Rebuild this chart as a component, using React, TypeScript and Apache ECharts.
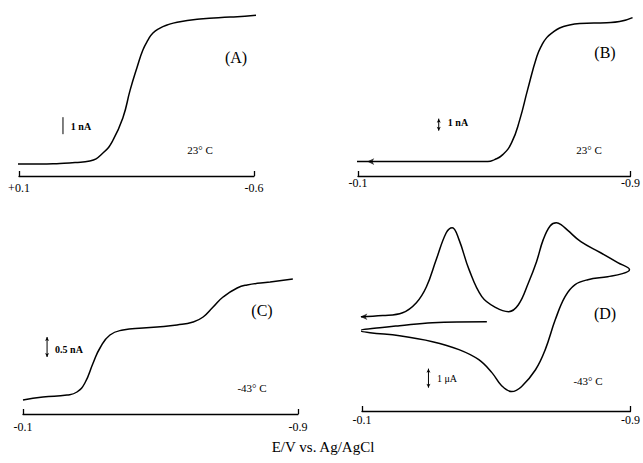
import React, { useEffect, useRef } from "react";
import * as echarts from "echarts";

// Panel A (23 °C), current in nA
const E_A = [0.109, 0.037, -0.022, -0.067, -0.111, -0.15, -0.18, -0.21, -0.231, -0.252, -0.269, -0.284, -0.299, -0.32, -0.341, -0.371, -0.439, -0.529, -0.573, -0.612];
const I_A = [0, 0, 0.04, 0.09, 0.18, 0.65, 1.41, 2.76, 4.35, 5.71, 6.71, 7.29, 7.71, 8.0, 8.18, 8.35, 8.53, 8.65, 8.7, 8.76];

// Panel B (23 °C), current in nA
const E_B = [-0.097, -0.223, -0.37, -0.481, -0.501, -0.525, -0.551, -0.575, -0.598, -0.625, -0.639, -0.654, -0.671, -0.692, -0.721, -0.751, -0.83, -0.868, -0.906];
const I_B = [0, 0, 0, 0, 0.17, 0.58, 1.58, 3.5, 6.0, 8.75, 9.67, 10.33, 10.75, 11.13, 11.38, 11.5, 11.58, 11.67, 12.0];

// Panel C (-43 °C), current in nA
const E_C = [-0.1, -0.158, -0.228, -0.257, -0.28, -0.304, -0.324, -0.353, -0.391, -0.449, -0.49, -0.548, -0.595, -0.624, -0.653, -0.682, -0.723, -0.752, -0.819, -0.885];
const I_C = [0, 0.075, 0.125, 0.2, 0.425, 0.925, 1.3, 1.625, 1.75, 1.8, 1.825, 1.875, 1.95, 2.075, 2.325, 2.575, 2.8, 2.875, 2.95, 3.025];

// Panel D (-43 °C), cyclic voltammogram, current in µA (in sweep order)
const E_D = [-0.472, -0.31, -0.212, -0.153, -0.094, -0.124, -0.212, -0.31, -0.389, -0.448, -0.487, -0.516, -0.546, -0.575, -0.617, -0.646, -0.676, -0.705, -0.735, -0.773, -0.832, -0.876, -0.897, -0.862, -0.811, -0.752, -0.714, -0.693, -0.679, -0.661, -0.64, -0.62, -0.596, -0.566, -0.537, -0.499, -0.457, -0.419, -0.389, -0.369, -0.351, -0.321, -0.292, -0.262, -0.221, -0.162, -0.085];
const I_D = [0, -0.05, -0.21, -0.32, -0.47, -0.58, -0.74, -1.05, -1.47, -2.0, -2.68, -3.37, -3.68, -3.42, -2.53, -1.47, 0.11, 1.32, 1.95, 2.21, 2.37, 2.53, 2.74, 3.11, 3.63, 4.21, 4.79, 5.11, 5.21, 5.05, 4.32, 3.16, 2.05, 0.89, 0.53, 0.74, 1.32, 2.74, 4.32, 4.95, 4.68, 3.26, 1.84, 1.0, 0.47, 0.32, 0.26];

// Scale bars: [E, lowCurrent, highCurrent]
const BAR_A = [-0.031, 1.76, 2.76];
const BAR_B = [-0.337, 2.58, 3.58];
const BAR_C = [-0.17, 1.075, 1.575];
const BAR_D = [-0.298, -3.47, -2.47];

// Axis ranges [min, max] in V
const X_A = [-0.6, 0.1];
const X_B = [-0.9, -0.1];
const X_C = [-0.9, -0.1];
const X_D = [-0.9, -0.1];

const SERIF = '"Liberation Serif", "DejaVu Serif", serif';

function zip(a: number[], b: number[]) {
  return a.map((v, i) => [v, b[i]]);
}

export default function App() {
  const ref = useRef<HTMLDivElement>(null);
  useEffect(() => {
    document.body.style.margin = "0";
    const chart = echarts.init(ref.current!, null, { renderer: "svg" });

    const grids = [
      { left: 19, top: 2.6, width: 235, height: 173.4 },
      { left: 358, top: 5.6, width: 273, height: 170.4 },
      { left: 23, top: 220, width: 275, height: 194 },
      { left: 362, top: 207.7, width: 271, height: 203.3 },
    ];
    const xr = [X_A, X_B, X_C, X_D];
    const margins = [6, 1, 7, 3];
    const yr = [
      [-0.7, 9.5],
      [-1.2, 13],
      [-0.35, 4.5],
      [-4.7, 6],
    ];
    const xAxis = xr.map((r, i) => ({
      type: "value",
      gridIndex: i,
      inverse: true,
      min: r[0],
      max: r[1],
      interval: +(r[1] - r[0]).toFixed(2),
      axisLine: { show: true, onZero: false, lineStyle: { color: "#000", width: 1.3 } },
      axisTick: { show: true, inside: true, length: 5, lineStyle: { color: "#000", width: 1.3 } },
      splitLine: { show: false },
      axisLabel: {
        color: "#000",
        fontFamily: SERIF,
        fontSize: 12,
        margin: margins[i],
        formatter: (v: number) => (v > 0 ? "+" + v.toFixed(1) : v.toFixed(1)),
      },
    }));
    const yAxis = yr.map((r, i) => ({
      type: "value",
      gridIndex: i,
      min: r[0],
      max: r[1],
      show: false,
      splitLine: { show: false },
    }));

    const curve = (i: number, data: number[][], smooth: number) => ({
      type: "line",
      xAxisIndex: i,
      yAxisIndex: i,
      data,
      smooth,
      showSymbol: false,
      symbol: "none",
      clip: false,
      lineStyle: { color: "#000", width: 1.5 },
    });
    const bar = (i: number, b: number[], arrows: boolean) => ({
      type: "line",
      xAxisIndex: i,
      yAxisIndex: i,
      clip: false,
      data: arrows
        ? [
            { value: [b[0], b[1]], symbolRotate: 180 },
            { value: [b[0], b[2]], symbolRotate: 0 },
          ]
        : [
            [b[0], b[1]],
            [b[0], b[2]],
          ],
      symbol: arrows ? "arrow" : "none",
      symbolSize: [3, 4],
      showSymbol: arrows,
      itemStyle: { color: "#000" },
      lineStyle: { color: "#000", width: 1 },
    });
    const startArrow = (i: number, p: number[]) => ({
      type: "scatter",
      xAxisIndex: i,
      yAxisIndex: i,
      clip: false,
      data: [p],
      symbol: "arrow",
      symbolSize: [5, 7],
      symbolRotate: 90,
      itemStyle: { color: "#000" },
    });

    const txt = (x: number, y: number, text: string, font: string) => ({
      type: "text",
      x,
      y,
      style: { text, font, fill: "#000", align: "center", verticalAlign: "middle" },
    });
    const label = `16px ${SERIF}`;
    const small = `11px ${SERIF}`;
    const bold = `bold 10px ${SERIF}`;

    chart.setOption({
      animation: false,
      backgroundColor: "#fff",
      grid: grids,
      xAxis,
      yAxis,
      series: [
        curve(0, zip(E_A, I_A), 0.5),
        curve(1, zip(E_B, I_B), 0.5),
        curve(2, zip(E_C, I_C), 0.5),
        curve(3, zip(E_D, I_D), 0.4),
        bar(0, BAR_A, false),
        bar(1, BAR_B, true),
        bar(2, BAR_C, true),
        bar(3, BAR_D, true),
        startArrow(1, [E_B[0] - 0.03, I_B[0]]),
        startArrow(3, [E_D[E_D.length - 1] - 0.01, I_D[I_D.length - 1]]),
      ],
      graphic: [
        txt(236, 57, "(A)", label),
        txt(200, 150, "23° C", small),
        txt(81, 126, "1 nA", bold),
        txt(605, 52, "(B)", label),
        txt(589, 150, "23° C", small),
        txt(458, 122, "1 nA", bold),
        txt(262, 310, "(C)", label),
        txt(252, 388, "-43° C", small),
        txt(69, 349, "0.5 nA", bold),
        txt(605, 313, "(D)", label),
        txt(588, 381, "-43° C", small),
        txt(447, 378, "1 μA", `10px ${SERIF}`),
        txt(323, 447, "E/V vs. Ag/AgCl", `15px ${SERIF}`),
      ],
    });
    return () => chart.dispose();
  }, []);
  return <div ref={ref} style={{ width: 643, height: 463 }} />;
}
